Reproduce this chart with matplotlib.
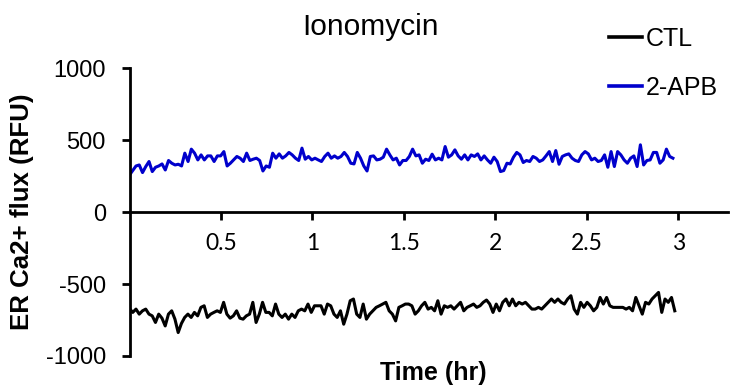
import numpy as np
import matplotlib
matplotlib.use("Agg")
import matplotlib.pyplot as plt

# Valeurs (RFU)
apb_values = [
    258, 290, 321, 328, 275, 317, 352, 282, 312, 321, 335, 293, 359, 340, 328, 333, 321, 410, 352, 438,
    410, 363, 398, 363, 391, 391, 352, 391, 391, 421, 321, 340, 363, 387, 375, 352, 410, 359, 368, 375,
    359, 286, 321, 312, 410, 375, 405, 375, 391, 415, 398, 375, 359, 445, 368, 387, 363, 375,
    363, 352, 387, 410, 375, 391, 375, 387, 415, 387, 340, 335, 415, 375, 321, 286, 387, 391, 363, 368,
    382, 438, 398, 363, 375, 328, 359, 359, 387, 438, 391, 398, 340, 368, 359, 403, 363, 375, 363, 456,
    382, 398, 433, 391, 368, 398, 363, 398, 387, 405, 363, 391, 363, 340, 382, 352, 282,
    289, 340, 335, 382, 415, 398, 345, 359, 352, 387, 375, 352, 363, 391, 421, 352, 428, 333, 387, 398,
    405, 375, 359, 352, 398, 421, 405, 363, 375, 352, 359, 398, 312, 421, 317, 421, 398, 363, 340, 375,
    391, 317, 468, 328, 359, 363, 415, 415, 340, 363, 438, 387, 375,
]
ctl_values = [
    -670, -697, -674, -709, -686, -674, -709, -721, -767, -709, -737, -791, -709, -686, -744, -837, -774, -732, -709, -732,
    -697, -721, -662, -651, -732, -709, -697, -686, -697, -627, -709, -737, -721, -686, -737, -744, -721, -709, -627, -767,
    -709, -627, -697, -697, -721, -639, -709, -732, -709, -744, -709, -732, -686, -674, -686, -639, -697, -651, -651,
    -651, -709, -639, -651, -709, -732, -686, -779, -709, -616, -604, -709, -732, -639, -744, -709, -686, -662, -651, -639,
    -627, -686, -709, -756, -662, -651, -639, -639, -651, -709, -686, -651, -627, -674, -662, -686, -616, -709, -651, -662,
    -651, -674, -651, -627, -686, -662, -651, -639, -662, -651, -627, -611, -639, -697, -639, -686, -627, -604, -651,
    -604, -651, -627, -639, -627, -651, -674, -674, -662, -674, -651, -627, -604, -627, -604, -627, -639, -604, -581, -674,
    -709, -627, -662, -627, -651, -686, -662, -593, -639, -593, -651, -662, -662, -662, -662, -674, -662, -686, -593, -651,
    -709, -627, -639, -604, -581, -558, -697, -604, -627, -593, -686,
]
series_labels = ["CTL", "2-APB"]
series_colors = ["#000000", "#0000CC"]
x_ticks = [0.5, 1, 1.5, 2, 2.5, 3]
x_ticklabels = ["0.5", "1", "1.5", "2", "2.5", "3"]
y_ticks = [-1000, -500, 0, 500, 1000]

# temps (h) : points régulièrement espacés sur la durée de la mesure
t_ctl = np.linspace(0, 2.98, len(ctl_values))
t_apb = np.linspace(0, 2.97, len(apb_values))

plt.rcParams['font.family'] = ['Liberation Sans', 'DejaVu Sans']

fig = plt.figure(figsize=(7.3, 3.88), dpi=100)
ax = fig.add_axes([0.1774, 0.0825, 0.997 - 0.1774, 0.824 - 0.0825])

l_ctl, = ax.plot(t_ctl, ctl_values, color=series_colors[0], lw=2.2)
l_apb, = ax.plot(t_apb, apb_values, color=series_colors[1], lw=2.2)

ax.set_xlim(0, 3.27)
ax.set_ylim(-1000, 1000)

# Axes façon Excel : croisement en zéro
ax.spines['top'].set_visible(False)
ax.spines['right'].set_visible(False)
ax.spines['left'].set_position(('data', 0))
ax.spines['bottom'].set_position(('data', 0))
for s in ['left', 'bottom']:
    ax.spines[s].set_linewidth(2)

ax.set_yticks(y_ticks)
ax.set_yticklabels([str(v) for v in y_ticks])
ax.tick_params(axis='y', direction='out', length=6, width=2, pad=11, labelsize=17)
ax.set_xticks(x_ticks)
ax.set_xticklabels(x_ticklabels, family=['Lato', 'DejaVu Sans'], fontsize=16.5)
ax.tick_params(axis='x', direction='out', length=6, width=2, pad=9)

fig.text(0.507, 0.93, "Ionomycin", ha='center', va='center', fontsize=21.5)
fig.text(0.594, 0.039, "Time (hr)", ha='center', va='center', fontsize=18, fontweight='bold')
fig.text(0.03, 0.454, "ER Ca2+ flux (RFU)", ha='center', va='center', rotation=90,
         fontsize=18.6, fontweight='bold')

leg = fig.legend([l_ctl, l_apb], series_labels, loc='upper left', bbox_to_anchor=(0.834, 0.93),
                 frameon=False, fontsize=18, handlelength=1.32, handletextpad=0.16,
                 labelspacing=1.0, borderpad=0, borderaxespad=0)
for h in leg.get_lines():
    h.set_linewidth(2.6)

fig.savefig("out.png", dpi=100)
